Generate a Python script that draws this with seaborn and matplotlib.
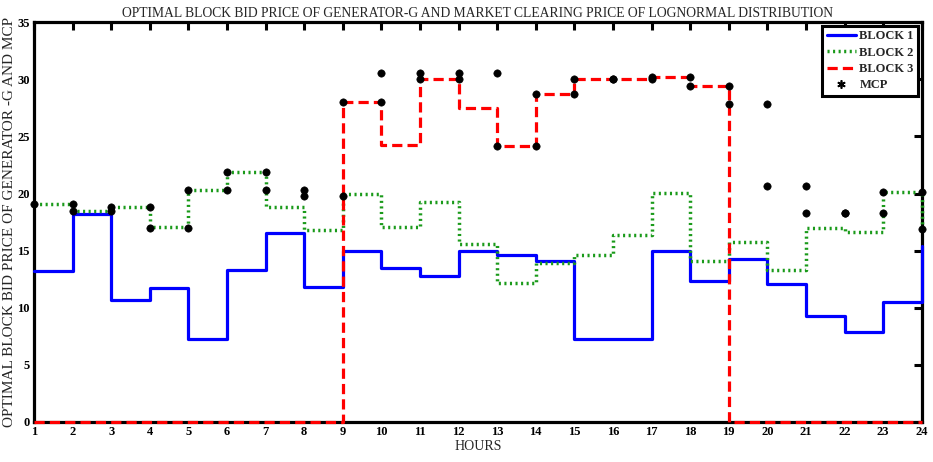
import seaborn as sns
import pandas as pd
import matplotlib.pyplot as plt
from matplotlib.lines import Line2D

hours = list(range(1, 25))

block1 = [13.2, 18.2, 10.7, 11.75, 7.3, 13.3, 16.55, 11.8, 15.0, 13.5, 12.8, 15.0,
          14.65, 14.1, 7.3, 7.3, 15.0, 12.3, 14.3, 12.1, 9.3, 7.9, 10.5, 15.4]
block2 = [19.1, 18.45, 18.85, 17.05, 20.35, 21.9, 18.85, 16.85, 20.0, 17.05, 19.25, 15.6,
          12.15, 13.9, 14.65, 16.4, 20.05, 14.05, 15.8, 13.3, 17.0, 16.65, 20.15, 16.9]
block3 = [0, 0, 0, 0, 0, 0, 0, 0, 28.0, 24.25, 30.0, 27.5,
          24.15, 28.7, 30.0, 30.0, 30.2, 29.45, 0, 0, 0, 0, 0, 0]
mcp = [19.1, 18.45, 18.85, 17.0, 20.35, 21.9, 20.35, 19.75, 28.0, 30.55, 30.0, 30.55,
       24.15, 28.7, 30.0, 30.0, 30.2, 29.45, 27.8, 20.7, 18.3, 18.3, 20.15, 16.9]

# MCP drawn like matlab stairs markers: corner points of the step curve
mcp_x = [hours[0]]
mcp_y = [mcp[0]]
for i in range(1, len(hours)):
    mcp_x += [hours[i], hours[i]]
    mcp_y += [mcp[i - 1], mcp[i]]

sns.set_style('white')
plt.rcParams['font.family'] = ['Liberation Serif', 'DejaVu Serif']

fig = plt.figure(figsize=(9.33, 4.62), dpi=100)
ax = fig.add_axes([0.0364, 0.0866, 0.9516, 0.8654])

sns.lineplot(x=hours, y=block1, ax=ax, color='#0000ff', lw=2.3,
             drawstyle='steps-post', clip_on=False, zorder=3)
sns.lineplot(x=hours, y=block2, ax=ax, color='#1a9a1a', lw=2.5, linestyle=(0, (0.6, 1.0)),
             drawstyle='steps-post', clip_on=False, zorder=3)
sns.lineplot(x=hours, y=block3, ax=ax, color='#ff0000', lw=2.3, linestyle=(0, (3.2, 1.6)),
             drawstyle='steps-post', clip_on=False, zorder=4)
sns.scatterplot(x=mcp_x, y=mcp_y, ax=ax, color='black', s=28, marker='o',
                edgecolor='black', clip_on=False, zorder=5)

ax.set_xlim(1, 24)
ax.set_ylim(0, 35)
ax.set_xticks(hours)
ax.set_yticks(range(0, 36, 5))
ax.tick_params(direction='in', length=6, width=2.2, top=True, right=True,
               labelsize=9, pad=3, colors='black')
for lab in ax.get_xticklabels() + ax.get_yticklabels():
    lab.set_fontweight('bold')
for sp in ax.spines.values():
    sp.set_linewidth(2.3)
    sp.set_color('black')

ax.set_title('OPTIMAL BLOCK BID PRICE OF GENERATOR-G AND MARKET CLEARING PRICE OF LOGNORMAL DISTRIBUTION',
             fontsize=9.8, pad=4)
ax.set_xlabel('HOURS', fontsize=10, labelpad=1)
ax.set_ylabel('OPTIMAL BLOCK BID PRICE OF GENERATOR -G AND MCP', fontsize=11, labelpad=1)

handles = [
    Line2D([], [], color='#0000ff', lw=2.3),
    Line2D([], [], color='#1a9a1a', lw=2.5, linestyle=(0, (0.6, 1.0))),
    Line2D([], [], color='#ff0000', lw=2.3, linestyle=(0, (3.2, 1.6))),
    Line2D([], [], color='black', marker=(6, 2, 0), linestyle='none', markersize=6, mew=1.2),
]
leg = ax.legend(handles, ['BLOCK 1', 'BLOCK 2', 'BLOCK 3', 'MCP'], loc='upper right',
                prop={'weight': 'bold', 'size': 9}, fancybox=False, framealpha=1,
                handlelength=2.3, handletextpad=0.3, borderpad=0.35, labelspacing=0.35,
                borderaxespad=0.3)
leg.get_frame().set_edgecolor('black')
leg.get_frame().set_linewidth(2.2)

fig.savefig('out.png', dpi=100)
